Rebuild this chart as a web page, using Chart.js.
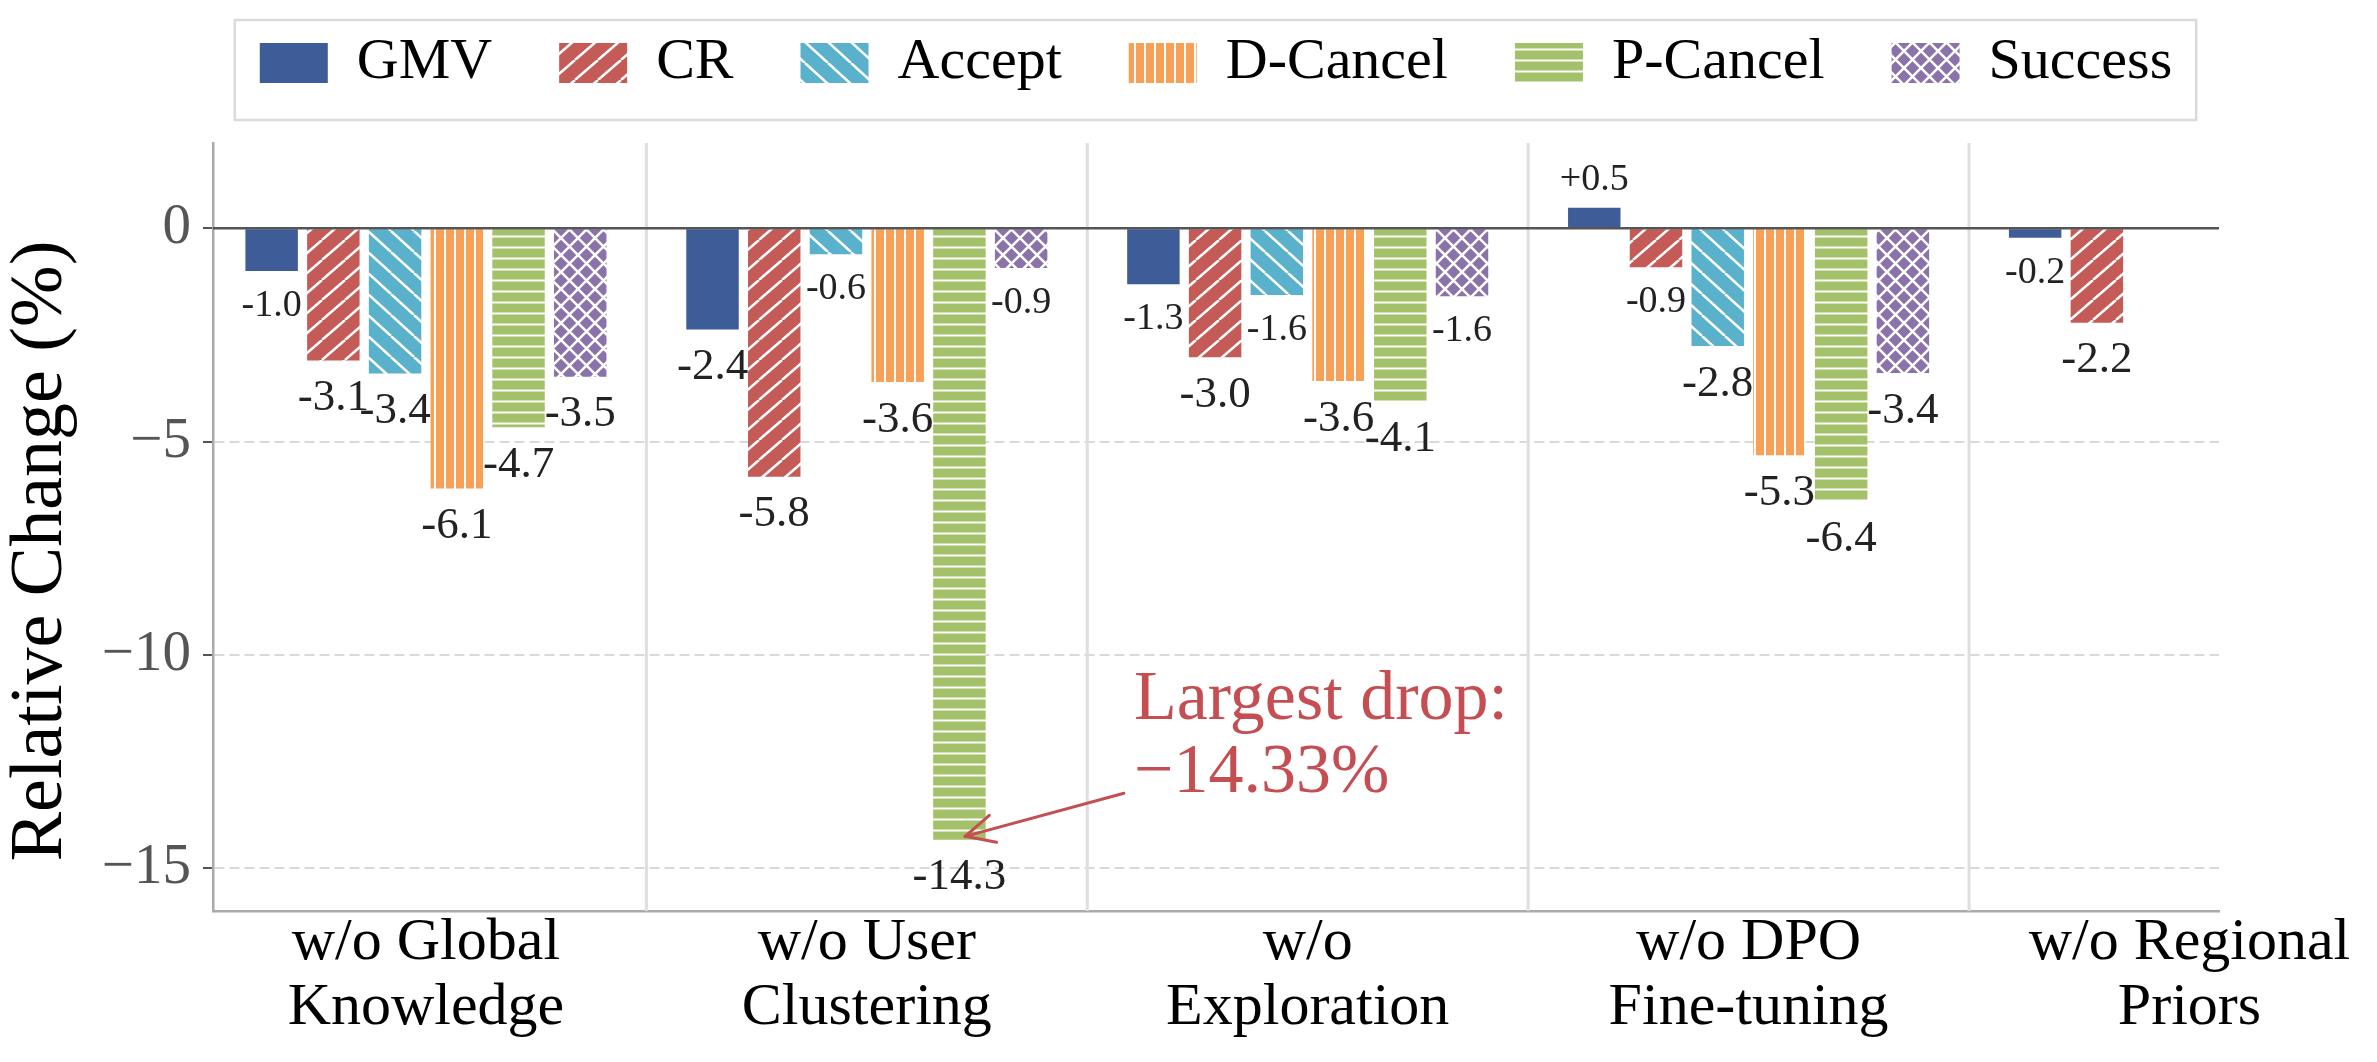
<!DOCTYPE html>
<html>
<head>
<meta charset="utf-8">
<script src="https://cdn.jsdelivr.net/npm/chart.js@4.4.1/dist/chart.umd.min.js"></script>
<style>
  html, body { margin: 0; padding: 0; background: #fff; }
  canvas { display: block; }
</style>
</head>
<body>
<canvas id="chart" width="2377" height="1062"></canvas>
<script>
// categories and series
const categories = [['w/o Global', 'Knowledge'], ['w/o User', 'Clustering'], ['w/o', 'Exploration'], ['w/o DPO', 'Fine-tuning'], ['w/o Regional', 'Priors']];
const seriesNames = ['GMV', 'CR', 'Accept', 'D-Cancel', 'P-Cancel', 'Success'];
const gmv     = [-1.0, -2.37, -1.31, 0.48, -0.22];
const cr      = [-3.1, -5.82, -3.02, -0.91, -2.21];
const accept  = [-3.4, -0.61, -1.56, -2.76, null];
const dCancel = [-6.1, -3.6, -3.58, -5.32, null];
const pCancel = [-4.66, -14.33, -4.06, -6.39, null];
const success = [-3.48, -0.93, -1.59, -3.39, null];
const yTicks = [0, -5, -10, -15];
const yTitle = 'Relative Change (%)';

const colors = ['#3E5C98', '#C55B57', '#5AB1CB', '#F7A056', '#A3C168', '#8A72AA'];
const hatches = ['', '/', '\\', '|', '-', 'x'];
const RED = '#C44E52';
const SERIF = '"Liberation Serif", "Times New Roman", serif';

// annotation (data coordinates)
const noteText = ['Largest drop:', '\u221214.33%'];
const noteTip = [1.223, -14.25];
const noteTail = [1.583, -13.24];
const noteAt = [1.606, -11.51];

function hatch(kind, color) {
    if (!kind) return color;
    const sizes = {'/': [23, 20], '\\': [23, 21], '|': [10, 10], '-': [11, 11], 'x': [17, 17]};
    const [w, h] = sizes[kind];
    const c = document.createElement('canvas');
    c.width = w; c.height = h;
    const g = c.getContext('2d');
    g.fillStyle = color;
    g.fillRect(0, 0, w, h);
    g.strokeStyle = '#fff';
    g.lineWidth = (kind === '|' || kind === '-') ? 2 : 2.5;
    g.beginPath();
    if (kind === '/' || kind === 'x') {
        for (let k = -1; k <= 1; k++) { g.moveTo(k * w, h); g.lineTo((k + 1) * w, 0); }
    }
    if (kind === '\\' || kind === 'x') {
        for (let k = -1; k <= 1; k++) { g.moveTo(k * w, 0); g.lineTo((k + 1) * w, h); }
    }
    if (kind === '|') { g.moveTo(w / 2, 0); g.lineTo(w / 2, h); }
    if (kind === '-') { g.moveTo(0, h / 2); g.lineTo(w, h / 2); }
    g.stroke();
    return g.createPattern(c, 'repeat');
}

const series = [gmv, cr, accept, dCancel, pCancel, success];
const datasets = series.map((vals, s) => ({
    label: seriesNames[s],
    data: vals.map((v, i) => ({x: i, y: v})).filter(p => p.y !== null),
    backgroundColor: hatch(hatches[s], colors[s]),
    borderWidth: 0,
    categoryPercentage: 0.84,
    barPercentage: 0.85
}));

// move legend over the plot area and box it
const legendPlace = {
    id: 'legendPlace',
    afterLayout(chart) {
        const lg = chart.legend, ca = chart.chartArea;
        const dx = (ca.left + ca.right) / 2 - (lg.left + lg.right) / 2;
        lg.left += dx; lg.right += dx;
        const pad = lg.options.labels.padding;
        const size = lg.options.labels.font.size;
        const dy = 63 - (lg.top + pad + size / 2);
        lg.top += dy; lg.bottom += dy;
    },
    afterDraw(chart) {
        const hb = chart.legend.legendHitBoxes;
        const first = hb[0], last = hb[hb.length - 1];
        const cy = first.top + first.height / 2;
        const left = first.left - 25;
        const right = last.left + last.width + 24;
        const ctx = chart.ctx;
        ctx.save();
        ctx.strokeStyle = '#dadada';
        ctx.lineWidth = 2.5;
        ctx.strokeRect(left, cy - 43, right - left, 100);
        ctx.restore();
    }
};

// group separators, zero line, value labels and the y title
const frame = {
    id: 'frame',
    beforeDatasetsDraw(chart) {
        const {ctx, chartArea: a, scales: {x}} = chart;
        ctx.save();
        ctx.strokeStyle = '#dedede';
        ctx.lineWidth = 3;
        for (let i = 0; i < categories.length - 1; i++) {
            const px = x.getPixelForValue(i + 0.5);
            ctx.beginPath();
            ctx.moveTo(px, a.top);
            ctx.lineTo(px, a.bottom);
            ctx.stroke();
        }
        ctx.restore();
    },
    afterDatasetsDraw(chart) {
        const {ctx, chartArea: a, scales: {y}} = chart;
        ctx.save();
        const y0 = y.getPixelForValue(0);
        ctx.strokeStyle = '#555';
        ctx.lineWidth = 2.5;
        ctx.beginPath();
        ctx.moveTo(a.left, y0);
        ctx.lineTo(a.right, y0);
        ctx.stroke();

        ctx.fillStyle = '#222';
        ctx.textAlign = 'center';
        ctx.textBaseline = 'alphabetic';
        chart.data.datasets.forEach((ds, s) => {
            const meta = chart.getDatasetMeta(s);
            meta.data.forEach((bar, j) => {
                const v = ds.data[j].y;
                const size = Math.abs(v) < 2 ? 38 : 45;
                ctx.font = size + 'px ' + SERIF;
                const txt = v > 0 ? '+' + v.toFixed(1) : v.toFixed(1);
                const ty = v > 0 ? bar.y - 18 : bar.y + 19 + 0.68 * size;
                ctx.fillText(txt, bar.x, ty);
            });
        });

        // y axis title
        ctx.translate(y.left + 42, (a.top + a.bottom) / 2 + 24);
        ctx.rotate(-Math.PI / 2);
        ctx.fillStyle = '#000';
        ctx.font = '74px ' + SERIF;
        ctx.textBaseline = 'middle';
        ctx.fillText(yTitle, 0, 0);
        ctx.restore();
    }
};

const note = {
    id: 'note',
    afterDraw(chart) {
        const {ctx, scales: {x, y}} = chart;
        const tipX = x.getPixelForValue(noteTip[0]), tipY = y.getPixelForValue(noteTip[1]);
        const tailX = x.getPixelForValue(noteTail[0]), tailY = y.getPixelForValue(noteTail[1]);
        ctx.save();
        ctx.strokeStyle = RED;
        ctx.lineWidth = 3;
        ctx.lineCap = 'round';
        ctx.beginPath();
        ctx.moveTo(tailX, tailY);
        ctx.lineTo(tipX, tipY);
        ctx.stroke();
        const ang = Math.atan2(tailY - tipY, tailX - tipX);
        for (const d of [-0.45, 0.45]) {
            ctx.beginPath();
            ctx.moveTo(tipX, tipY);
            ctx.lineTo(tipX + 32 * Math.cos(ang + d), tipY + 32 * Math.sin(ang + d));
            ctx.stroke();
        }
        ctx.fillStyle = RED;
        ctx.font = '70px ' + SERIF;
        ctx.textAlign = 'left';
        ctx.textBaseline = 'alphabetic';
        const tx = x.getPixelForValue(noteAt[0]), ty = y.getPixelForValue(noteAt[1]);
        noteText.forEach((t, i) => ctx.fillText(t, tx, ty + i * 73));
        ctx.restore();
    }
};

new Chart(document.getElementById('chart'), {
    type: 'bar',
    data: { datasets: datasets },
    options: {
        responsive: false,
        devicePixelRatio: 1,
        animation: false,
        layout: { padding: { top: 8, right: 158, bottom: 0, left: 0 } },
        plugins: {
            legend: {
                position: 'top',
                labels: {
                    boxWidth: 68, boxHeight: 40, padding: 67, color: '#000',
                    font: { family: SERIF, size: 58 }
                }
            },
            tooltip: { enabled: false }
        },
        scales: {
            x: {
                type: 'linear', min: -0.483, max: 4.067, offset: false,
                grid: { display: false, drawTicks: false, offset: false },
                border: { display: true, color: '#aaa', width: 2.5 },
                afterBuildTicks: s => { s.ticks = categories.map((_, i) => ({ value: i })); },
                afterFit: s => { s.height = 151; },
                ticks: {
                    autoSkip: false, maxRotation: 0, padding: 0, color: '#000',
                    font: { family: SERIF, size: 60, lineHeight: 1.083 },
                    callback: v => categories[v]
                }
            },
            y: {
                min: -16, max: 2,
                afterBuildTicks: s => { s.ticks = yTicks.map(v => ({ value: v })); },
                afterFit: s => { s.width = 213; },
                grid: {
                    color: c => (c.tick && c.tick.value === 0) ? 'rgba(0,0,0,0)' : '#d9d9d9',
                    lineWidth: 2, tickColor: '#555', tickWidth: 2, tickLength: 10
                },
                border: { display: true, color: '#aaa', width: 2.5, dash: [10, 5] },
                title: { display: false },
                ticks: {
                    padding: 12, color: '#555',
                    font: { family: SERIF, size: 57 },
                    callback: v => v === 0 ? '0' : '\u2212' + Math.abs(v)
                }
            }
        }
    },
    plugins: [legendPlace, frame, note]
});
</script>
</body>
</html>
